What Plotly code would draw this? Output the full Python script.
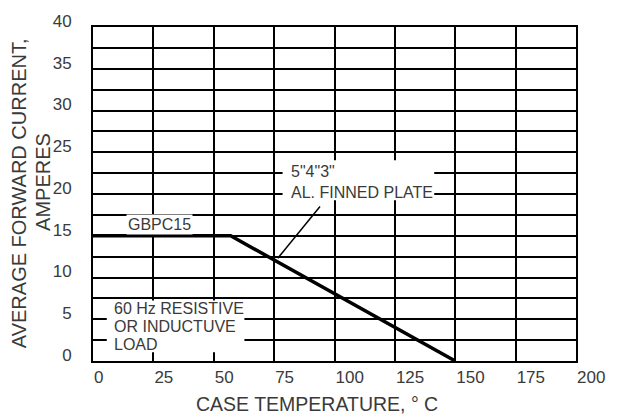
import plotly.graph_objects as go

# Data
temps = [0, 57, 150]          # case temperature, °C
current = [15, 15, 0]         # average forward current, A
x_ticks = [0, 25, 50, 75, 100, 125, 150, 175, 200]
y_ticks = [0, 5, 10, 15, 20, 25, 30, 35, 40]
pointer_x = [76.5, 94]
pointer_y = [12.3, 18.5]

FONT = "Liberation Sans, Arial, Helvetica, sans-serif"
TXT = "#3a3a3a"

fig = go.Figure()
fig.add_trace(go.Scatter(x=temps, y=current, mode="lines",
                         line=dict(color="black", width=3.5),
                         hoverinfo="skip", showlegend=False))

fig.add_shape(type="line", x0=pointer_x[0], y0=pointer_y[0], x1=pointer_x[1], y1=pointer_y[1],
              xref="x", yref="y", line=dict(color="black", width=1.5))
# white label boxes
fig.add_shape(type="rect", x0=78.5, x1=141.3, y0=19.25, y1=24.05, xref="x", yref="y",
              fillcolor="white", line=dict(width=0), layer="above")
fig.add_shape(type="rect", x0=5.7, x1=62.7, y0=1.05, y1=7.25, xref="x", yref="y",
              fillcolor="white", line=dict(width=0), layer="above")

fig.update_layout(
    width=617, height=419,
    margin=dict(l=93, r=30, t=20, b=58),
    paper_bgcolor="white", plot_bgcolor="white",
    font=dict(family=FONT, color=TXT),
    showlegend=False,
)

fig.update_xaxes(
    range=[0, 200], tickvals=x_ticks, ticktext=[str(v) for v in x_ticks],
    showgrid=True, gridcolor="black", gridwidth=2,
    showline=True, linecolor="black", linewidth=2, mirror=True,
    zeroline=False, ticks="", ticklabelposition="outside right",
    tickfont=dict(size=17, color=TXT, family=FONT),
)
fig.update_yaxes(
    range=[0, 40], tickvals=y_ticks, ticktext=[str(v) for v in y_ticks],
    showgrid=True, gridcolor="black", gridwidth=2,
    minor=dict(dtick=2.5, showgrid=True, gridcolor="black", gridwidth=2),
    showline=True, linecolor="black", linewidth=2, mirror=True,
    zeroline=False, ticks="", ticklabelshift=-6, ticklabelstandoff=16,
    tickfont=dict(size=17, color=TXT, family=FONT),
)

def note(text, x, y, size=16):
    return dict(text=text, x=x, y=y, xref="x", yref="y", xanchor="left", yanchor="middle",
                showarrow=False, font=dict(size=size, color=TXT, family=FONT))

annotations = [
    note("5\"4\"3\"", 81.3, 22.64),
    note("AL. FINNED PLATE", 81.3, 20.18),
    note("60 Hz RESISTIVE", 7.7, 6.33),
    note("OR INDUCTUVE", 7.7, 4.11),
    note("LOAD", 7.7, 1.99),
    dict(text="GBPC15", x=27.5, y=16.4, xref="x", yref="y",
         xanchor="center", yanchor="middle", showarrow=False,
         bgcolor="white", borderpad=1, font=dict(size=16, color=TXT, family=FONT)),
    dict(text="CASE TEMPERATURE, ° C", x=0.4646, y=-0.129, xref="paper", yref="paper",
         xanchor="center", yanchor="middle", showarrow=False,
         font=dict(size=19.5, color=TXT, family=FONT)),
    dict(text="AVERAGE FORWARD CURRENT,", x=-0.1518, y=0.5015, xref="paper", yref="paper",
         xanchor="center", yanchor="middle", showarrow=False, textangle=-90,
         font=dict(size=20, color=TXT, family=FONT)),
    dict(text="AMPERES", x=-0.1032, y=0.5367, xref="paper", yref="paper",
         xanchor="center", yanchor="middle", showarrow=False, textangle=-90,
         font=dict(size=20, color=TXT, family=FONT)),
]
fig.update_layout(annotations=annotations)

fig.write_html("out.html", config={"displayModeBar": False},
               post_script="document.body.style.margin='0';document.body.style.overflow='hidden';")
